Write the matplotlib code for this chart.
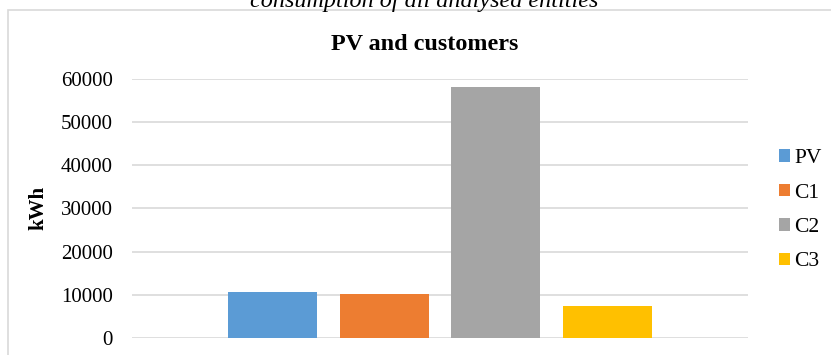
import matplotlib.pyplot as plt
from matplotlib.patches import Patch, Rectangle

# data
series = ['PV', 'C1', 'C2', 'C3']
values = [10600, 10150, 58000, 7400]
colors = ['#5B9BD5', '#ED7D31', '#A5A5A5', '#FFC000']
yticks = [0, 10000, 20000, 30000, 40000, 50000, 60000]

plt.rcParams['font.family'] = ['Liberation Serif', 'DejaVu Serif']

fig = plt.figure(figsize=(8.31, 3.55), dpi=100)
W, H = 831, 355

# outer chart border (runs off the right and bottom edges)
fig.patches.append(Rectangle((8 / W, -0.1), 1.0, 1 - 10 / H + 0.1,
                             transform=fig.transFigure, fill=False,
                             edgecolor='#d9d9d9', linewidth=1.2))

ax = fig.add_axes([132 / W, 17 / H, (748 - 132) / W, (338 - 78.7) / H])

x = list(range(len(series)))
ax.bar(x, values, width=0.8, color=colors, zorder=3)

ax.set_xlim(-1.26, 3 + 1.26)
ax.set_ylim(0, 60000)
ax.set_yticks(yticks)
ax.set_yticklabels([str(v) for v in yticks], fontsize=15)
ax.set_xticks([])
ax.tick_params(axis='y', length=0, pad=14)
for s in ax.spines.values():
    s.set_visible(False)
ax.grid(axis='y', color='#d9d9d9', linewidth=1.2, zorder=0)
ax.set_ylabel('kWh', fontsize=15, fontweight='bold', labelpad=9)

fig.text(425 / W, 1 - 45 / H, 'PV and customers', ha='center', va='center',
         fontsize=17.4, fontweight='bold')
fig.text(424 / W, 1 - 7 / H, 'consumption of all analysed entities',
         ha='center', va='baseline', fontsize=17.4, style='italic')

handles = [Patch(facecolor=c, edgecolor='none') for c in colors]
fig.legend(handles, series, loc='upper left', bbox_to_anchor=(779 / W, 1 - 149 / H),
           frameon=False, fontsize=15.5, handlelength=0.52, handleheight=0.52,
           handletextpad=0.2, labelspacing=0.72, borderpad=0, borderaxespad=0)

fig.savefig('out.png', dpi=100)
